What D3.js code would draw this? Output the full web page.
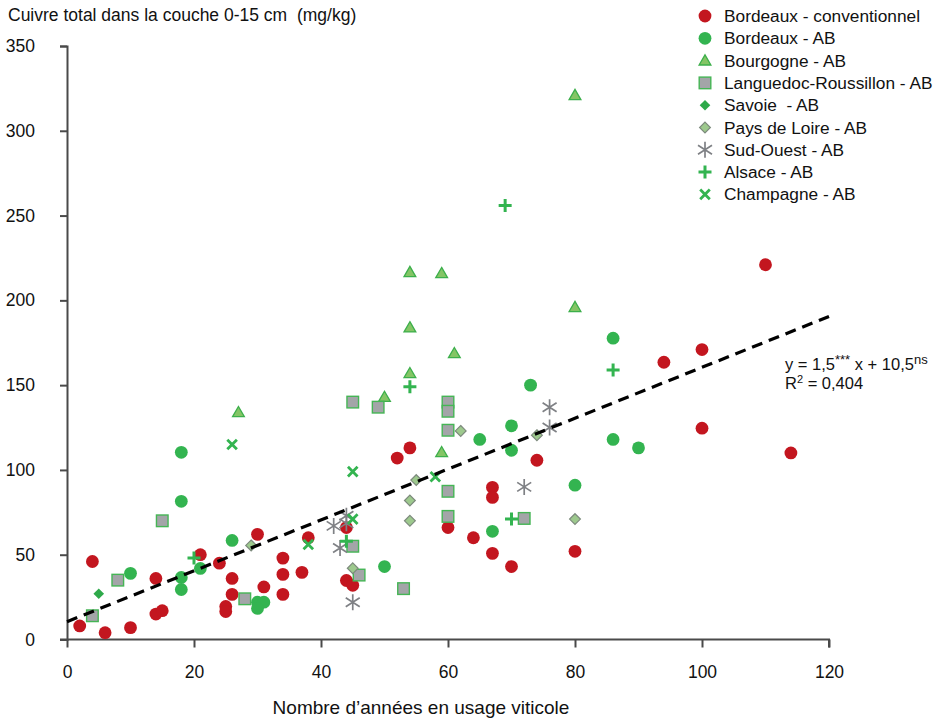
<!DOCTYPE html>
<html>
<head>
<meta charset="utf-8">
<script src="https://cdn.jsdelivr.net/npm/d3@7"></script>
<style>
  body { margin: 0; background: #fff; }
  svg { display: block; font-family: "Liberation Sans", Arial, Helvetica, sans-serif; }
</style>
</head>
<body>
<div id="chart"></div>
<script>
// ---- Data ----
const seriesNames = [
  "Bordeaux - conventionnel", "Bordeaux - AB", "Bourgogne - AB",
  "Languedoc-Roussillon - AB", "Savoie  - AB", "Pays de Loire - AB",
  "Sud-Ouest - AB", "Alsace - AB", "Champagne - AB"
];
const bordeauxConv = [[2,8],[4,46],[6,4],[10,7],[14,36],[14,15],[15,17],[21,50],[24,45],[25,19.5],[25,16.5],[26,26.6],[26,36],[30,62],[31,31],[34,48],[34,38.4],[34,26.6],[37,39.6],[38,60],[44,34.8],[45,32],[44,66],[52,107],[54,113],[60,66],[64,60],[67,89.7],[67,83.8],[67,50.8],[70,43],[74,105.7],[80,52],[94,163.5],[100,171],[100,124.6],[110,221],[114,110]];
const bordeauxAB = [[10,39],[18,110.4],[18,81.5],[18,36.6],[18,29.5],[21,41.9],[26,58.4],[30,22],[31,22],[30,18.3],[50,43],[65,118],[70,126],[70,111.6],[67,63.8],[73,150],[86,177.7],[86,118],[90,113],[80,91]];
const bourgogne = [[27,134],[50,143],[54,157],[54,184],[54,216.6],[59,216],[59,110.4],[61,168.8],[80,196],[80,321]];
const languedoc = [[4,14],[8,35],[15,70],[28,24],[45,140],[49,137],[60,140],[60,134.6],[60,123.4],[60,87.4],[60,72.6],[72,71.4],[45,55],[46,38],[53,30]];
const savoie = [[5,27]];
const paysDeLoire = [[29,55.5],[45,42],[54,70],[54,82],[55,94],[62,123],[74,120.5],[80,71]];
const sudOuest = [[42,67],[44,73],[44,68.5],[43,54],[45,22],[72,90],[76,137],[76,125]];
const alsace = [[20,48],[44,58],[54,149],[69,256],[70,71],[86,159]];
const champagne = [[26,115],[38,56],[45,71],[45,99],[58,96]];
const xTicks = [0,20,40,60,80,100,120];
const yTicks = [0,50,100,150,200,250,300,350];
const regSlope = 1.5, regIntercept = 10.5;

// ---- Layout ----
const W = 941, H = 718;
const m = {left: 67, top: 46, right: 112, bottom: 78.5};
const svg = d3.select("#chart").append("svg").attr("width", W).attr("height", H);
const x = d3.scaleLinear().domain([0,120]).range([m.left, W - m.right]);
const y = d3.scaleLinear().domain([0,350]).range([H - m.bottom, m.top]);

const axisColor = "#4a4a4a";
const gx = svg.append("g").attr("transform", `translate(0,${y(0)})`)
  .call(d3.axisBottom(x).tickValues(xTicks).tickSize(8).tickSizeOuter(8).tickPadding(18));
const gy = svg.append("g").attr("transform", `translate(${x(0)},0)`)
  .call(d3.axisLeft(y).tickValues(yTicks).tickSize(7).tickSizeOuter(7).tickPadding(25));
[gx, gy].forEach(g => {
  g.selectAll("path, line").attr("stroke", axisColor).attr("stroke-width", 2);
  g.selectAll("text").attr("fill", "#111").style("font-size", "17.5px");
});
gx.select(".domain").attr("d", `M${x(0)-7},0H${x(120)}V8`);

// axis titles
svg.append("text").attr("x", 8).attr("y", 21).attr("fill", "#111")
  .style("font-size", "17.5px").style("white-space", "pre")
  .text("Cuivre total dans la couche 0-15 cm  (mg/kg)");
svg.append("text").attr("x", 421).attr("y", 714).attr("text-anchor", "middle").attr("fill", "#111")
  .style("font-size", "19px").text("Nombre d’années en usage viticole");

// ---- Markers ----
const C = {red: "#c3161f", green: "#33b450", triFill: "#84c565", triStroke: "#3caf4b",
  sqFill: "#a3a5a8", sqStroke: "#45b555", savoie: "#2ea94a", pdlFill: "#9dc98d", pdlStroke: "#7d8a7d",
  grey: "#7f8185"};

function drawMarker(g, type) {
  switch (type) {
    case 0: g.append("circle").attr("r", 6.4).attr("fill", C.red); break;
    case 1: g.append("circle").attr("r", 6.4).attr("fill", C.green); break;
    case 2: g.append("path").attr("d", d3.symbol(d3.symbolTriangle, 60)()).attr("transform","translate(0,1)")
      .attr("fill", C.triFill).attr("stroke", C.triStroke).attr("stroke-width", 1.3); break;
    case 3: g.append("rect").attr("x", -5.8).attr("y", -5.8).attr("width", 11.6).attr("height", 11.6)
      .attr("fill", C.sqFill).attr("stroke", C.sqStroke).attr("stroke-width", 1.4); break;
    case 4: g.append("path").attr("d", "M0,-5.3L5.3,0L0,5.3L-5.3,0Z").attr("fill", C.savoie); break;
    case 5: g.append("path").attr("d", "M0,-5.4L5.4,0L0,5.4L-5.4,0Z")
      .attr("fill", C.pdlFill).attr("stroke", C.pdlStroke).attr("stroke-width", 1.2); break;
    case 6: g.append("path").attr("d", "M0,-8V8M-7,-4.5L7,4.5M-7,4.5L7,-4.5")
      .attr("stroke", C.grey).attr("stroke-width", 1.7).attr("fill", "none"); break;
    case 7: g.append("path").attr("d", "M-6.5,0H6.5M0,-6.5V6.5")
      .attr("stroke", C.green).attr("stroke-width", 3).attr("fill", "none"); break;
    case 8: g.append("path").attr("d", "M-4.8,-4.8L4.8,4.8M-4.8,4.8L4.8,-4.8")
      .attr("stroke", C.green).attr("stroke-width", 2.8).attr("fill", "none"); break;
  }
}

const allSeries = [bordeauxConv, bordeauxAB, bourgogne, languedoc, savoie, paysDeLoire, sudOuest, alsace, champagne];
const plot = svg.append("g");
allSeries.forEach((data, si) => {
  plot.selectAll(null).data(data).enter().append("g")
    .attr("transform", d => `translate(${x(d[0])},${y(d[1])})`)
    .each(function() { drawMarker(d3.select(this), si); });
});

const regLine = d3.line().x(d => x(d)).y(d => y(regSlope * d + regIntercept));
svg.append("path").attr("d", regLine([0, 120])).attr("fill", "none")
  .attr("stroke", "#000").attr("stroke-width", 3.2).attr("stroke-dasharray", "11,7");

// ---- Legend ----
const leg = svg.append("g");
seriesNames.forEach((name, i) => {
  const yy = 16 + i * 22.3;
  const g = leg.append("g").attr("transform", `translate(705,${yy})`);
  drawMarker(g, i);
  leg.append("text").attr("x", 724).attr("y", yy + 6).attr("fill", "#111")
    .style("font-size", "17.3px").style("white-space", "pre").text(name);
});

// ---- Equation ----
const eq = svg.append("text").attr("x", 785).attr("y", 370).attr("fill", "#111").style("font-size", "16.5px");
eq.append("tspan").text("y = 1,5");
eq.append("tspan").attr("dy", -6).style("font-size", "13px").text("***");
eq.append("tspan").attr("dy", 6).text(" x + 10,5");
eq.append("tspan").attr("dy", -6).style("font-size", "13px").text("ns");
const r2 = svg.append("text").attr("x", 785).attr("y", 389).attr("fill", "#111").style("font-size", "16.5px");
r2.append("tspan").text("R");
r2.append("tspan").attr("dy", -6).style("font-size", "11px").text("2");
r2.append("tspan").attr("dy", 6).text(" = 0,404");
</script>
</body>
</html>
